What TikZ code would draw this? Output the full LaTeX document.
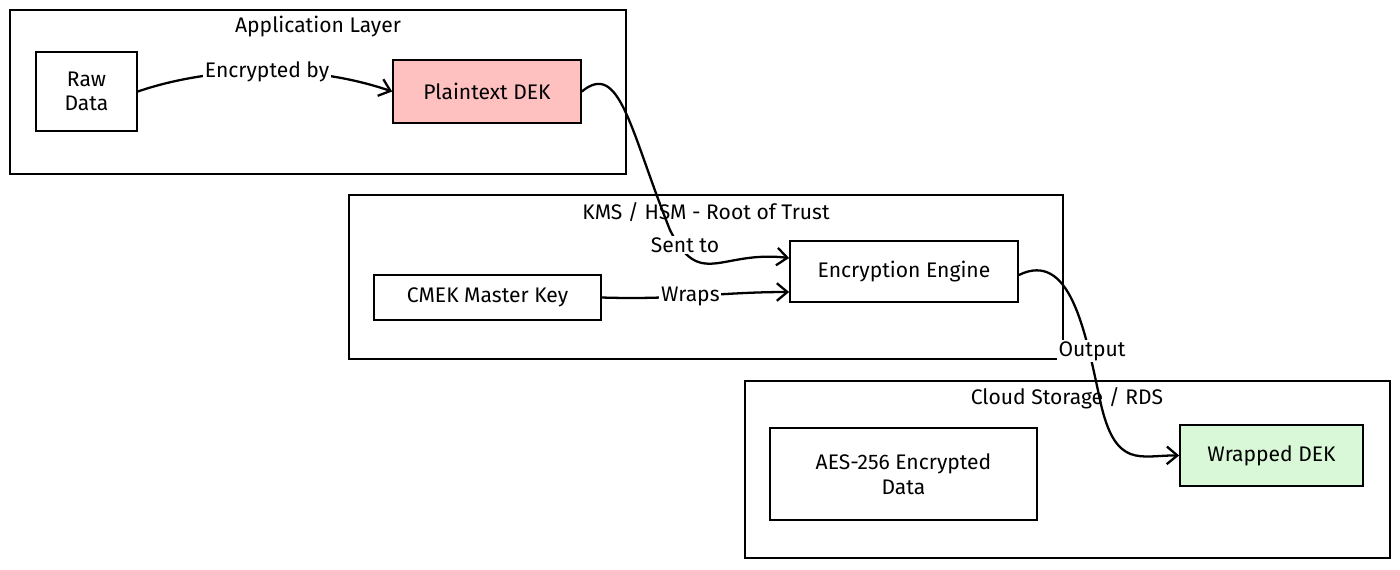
\documentclass[tikz,border=0pt]{standalone}
\usepackage{fontspec}
\setmainfont{Fira Sans}
\usetikzlibrary{arrows.meta}
\definecolor{dekpink}{HTML}{FFC0C0}
\definecolor{dekgreen}{HTML}{D8F8D8}
\tikzset{
    % inner box
    keybox/.style={draw, line width=1pt, align=center, font=\large},
    flow/.style={line width=1.3pt, -{Straight Barb[length=6pt,width=10pt]}},
    flowlabel/.style={fill=white, inner sep=1pt, font=\large}
}
\begin{document}
\begin{tikzpicture}[x=0.02cm, y=-0.02cm]
    \useasboundingbox (0,0) rectangle (1400,569);
    % layers
    \draw[line width=1pt] (10,10) rectangle (626,174);
    \node[font=\large] (applbl) at (318,27) {Application Layer};
    \draw[line width=1pt] (349,195) rectangle (1063,359);
    \node[font=\large] (kmslbl) at (706,212) {KMS / HSM - Root of Trust};
    \draw[line width=1pt] (745,381) rectangle (1390,558);
    \node[font=\large] (cloudlbl) at (1067,398) {Cloud Storage / RDS};
    % boxes
    \node[keybox, minimum width=2.02cm, minimum height=1.58cm] (raw) at (86.5,91.5) {Raw\\Data};
    \node[keybox, fill=dekpink, minimum width=3.76cm, minimum height=1.26cm] (dek) at (487,91.5) {Plaintext DEK};
    \node[keybox, minimum width=4.56cm, minimum height=1.22cm] (engine) at (904,271.5) {Encryption Engine};
    \node[keybox, minimum width=4.54cm, minimum height=0.9cm] (cmek) at (487.5,297.5) {CMEK Master Key};
    \node[keybox, minimum width=5.34cm, minimum height=1.84cm] (aes) at (903.5,474) {AES-256 Encrypted\\Data};
    \node[keybox, fill=dekgreen, minimum width=3.66cm, minimum height=1.22cm] (wrapped) at (1271.5,455.5) {Wrapped DEK};
    % connectors
    \draw[flow] (raw.east) .. controls (200,70) and (300,60) .. node[flowlabel, pos=0.55] {Encrypted by} (dek.west);
    \draw[flow] (dek.east) .. controls (620,60) and (630,130) .. (670,230)
        .. controls (700,290) and (720,250) .. (engine.west |- 0,258);
    \node[flowlabel] (sentlbl) at (685,245) {Sent to};
    \draw[flow] (cmek.east) .. controls (680,300) and (720,292) .. node[flowlabel, pos=0.45] {Wraps} (engine.west |- 0,292);
    \draw[flow] (engine.east |- 0,275) .. controls (1070,250) and (1085,330) .. (1100,400)
        .. controls (1115,470) and (1140,455) .. (wrapped.west);
    \node[flowlabel] (outlbl) at (1092,351) {Output};
\end{tikzpicture}
\end{document}
